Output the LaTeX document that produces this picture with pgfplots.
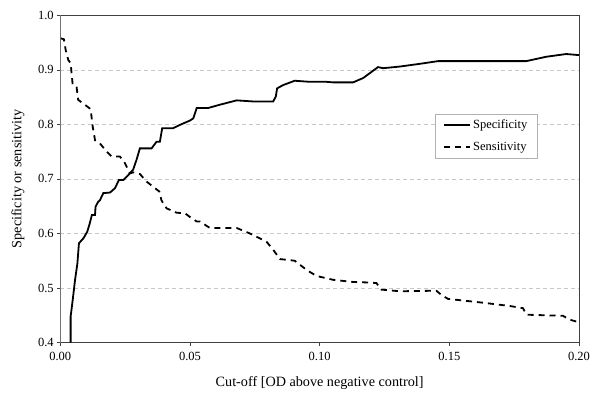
\documentclass[border=0pt]{standalone}
\usepackage{pgfplots}
\pgfplotsset{compat=1.18}
\usepackage{fontspec}
\setmainfont{Liberation Serif}

\definecolor{framegray}{HTML}{404040}
\definecolor{leftgray}{HTML}{8C8C8C}
\definecolor{gridgray}{HTML}{C8C8C8}

\begin{document}
\begin{tikzpicture}
  \path[use as bounding box] (-60.3pt,-58.3pt) rectangle (540pt,342.7pt);
  \begin{axis}[
    scale only axis,
    width=519pt, height=327.4pt,
    at={(0,0)}, anchor=south west,
    xmin=0, xmax=0.2, ymin=0.4, ymax=1.0,
    xtick={0,0.05,0.1,0.15,0.2},
    ytick={0.4,0.5,0.6,0.7,0.8,0.9,1.0},
    tick label style={font=\fontsize{12.5}{14}\selectfont},
    xticklabel style={yshift=-3pt, /pgf/number format/.cd,fixed,fixed zerofill,precision=2},
    yticklabel style={/pgf/number format/.cd,fixed,fixed zerofill,precision=1},
    /pgf/number format/assume math mode=true,
    scaled x ticks=false,
    xtick pos=bottom, ytick pos=left,
    tick align=outside, major tick length=3pt,
    tick style={color=framegray, line width=0.6pt},
    axis line style={draw=framegray, line width=0.8pt},
    ymajorgrids,
    major grid style={gridgray, dash pattern=on 4pt off 3pt, line width=0.6pt},
    xlabel={Cut-off [OD above negative control]},
    ylabel={Specificity or sensitivity},
    label style={font=\fontsize{14.2}{16}\selectfont},
    xlabel style={at={(axis description cs:0.5,-0.123)}, anchor=center},
    ylabel style={at={(axis description cs:-0.0815,0.5)}, anchor=center},
    legend style={at={(0.92,0.699)}, anchor=north east, draw=gray!60,
      font=\fontsize{12.5}{14}\selectfont, inner xsep=8pt, inner ysep=4pt,
      row sep=8pt, cells={anchor=west}},
    legend cell align=left,
    legend image code/.code={\draw[#1] (0pt,0pt) -- (26pt,0pt);},
  ]
    \addplot[black, line width=1.8pt] coordinates {
      (0.0040,0.400) (0.0040,0.448) (0.0048,0.478) (0.0057,0.515) (0.0066,0.545)
      (0.0072,0.582) (0.0089,0.591) (0.0104,0.603) (0.0114,0.619) (0.0122,0.634)
      (0.0134,0.634) (0.0136,0.649) (0.0146,0.658) (0.0153,0.661) (0.0166,0.674)
      (0.0192,0.675) (0.0211,0.683) (0.0226,0.698) (0.0243,0.698) (0.0262,0.707)
      (0.0281,0.717) (0.0294,0.735) (0.0307,0.756) (0.0333,0.756) (0.0352,0.756)
      (0.0371,0.768) (0.0384,0.768) (0.0393,0.793) (0.0435,0.793) (0.0461,0.799)
      (0.0500,0.807) (0.0513,0.811) (0.0526,0.830) (0.0570,0.830) (0.0615,0.836)
      (0.0680,0.844) (0.0744,0.842) (0.0821,0.842) (0.0831,0.851) (0.0836,0.866)
      (0.0859,0.872) (0.0904,0.880) (0.0962,0.878) (0.1027,0.878) (0.1052,0.877)
      (0.1129,0.877) (0.1168,0.885) (0.1225,0.905) (0.1245,0.903) (0.1309,0.906)
      (0.1386,0.911) (0.1457,0.916) (0.1797,0.916) (0.1874,0.924) (0.1951,0.929)
      (0.2000,0.927)
    };
    \addlegendentry{Specificity}
    \addplot[black, line width=1.8pt, dash pattern=on 6pt off 5pt] coordinates {
      (0.0000,0.958) (0.0014,0.956) (0.0021,0.936) (0.0031,0.918) (0.0040,0.912)
      (0.0048,0.872) (0.0063,0.868) (0.0069,0.845) (0.0095,0.836) (0.0117,0.828)
      (0.0125,0.796) (0.0134,0.771) (0.0153,0.765) (0.0179,0.750) (0.0198,0.741)
      (0.0230,0.741) (0.0249,0.729) (0.0269,0.710) (0.0281,0.712) (0.0307,0.709)
      (0.0333,0.695) (0.0365,0.683) (0.0382,0.677) (0.0390,0.661) (0.0397,0.655)
      (0.0410,0.646) (0.0449,0.638) (0.0481,0.637) (0.0506,0.628) (0.0526,0.622)
      (0.0538,0.622) (0.0577,0.610) (0.0680,0.610) (0.0731,0.600) (0.0795,0.585)
      (0.0821,0.570) (0.0847,0.553) (0.0904,0.550) (0.0950,0.533) (0.0988,0.522)
      (0.1052,0.515) (0.1129,0.511) (0.1193,0.510) (0.1219,0.509) (0.1238,0.497)
      (0.1309,0.494) (0.1450,0.495) (0.1470,0.487) (0.1495,0.480) (0.1630,0.473)
      (0.1733,0.467) (0.1784,0.463) (0.1797,0.451) (0.1938,0.449) (0.1964,0.442)
      (0.2000,0.437)
    };
    \addlegendentry{Sensitivity}
    \draw[leftgray, line width=1pt] (rel axis cs:0,0) -- (rel axis cs:0,1);
  \end{axis}
\end{tikzpicture}
\end{document}
